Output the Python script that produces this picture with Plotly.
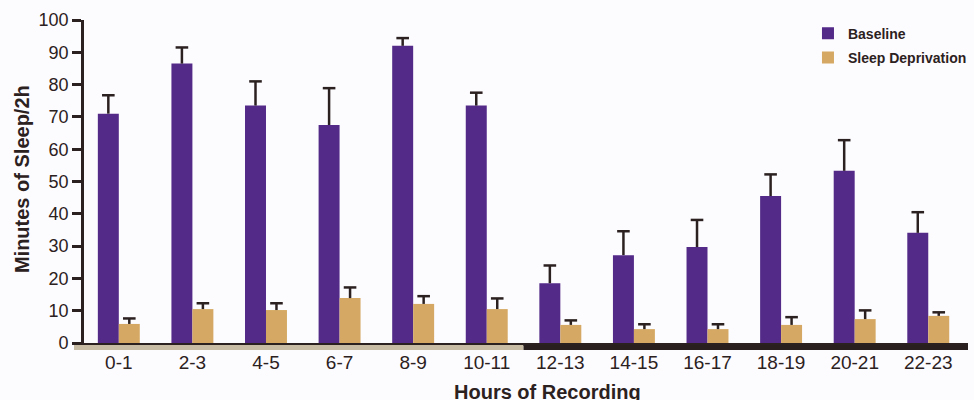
import plotly.graph_objects as go

# Sleep per 2-hour recording window (minutes), mean with upper SEM
hours = ["0-1", "2-3", "4-5", "6-7", "8-9", "10-11",
         "12-13", "14-15", "16-17", "18-19", "20-21", "22-23"]
baseline = [71, 86.5, 73.5, 67.5, 92, 73.5, 18.5, 27.2, 29.7, 45.5, 53.3, 34.1]
baseline_err = [5.7, 5.0, 7.5, 11.4, 2.4, 4.0, 5.5, 7.4, 8.4, 6.7, 9.5, 6.4]
sleep_dep = [5.9, 10.5, 10.2, 13.9, 12.1, 10.5, 5.6, 4.3, 4.3, 5.6, 7.4, 8.4]
sleep_dep_err = [1.7, 1.8, 2.1, 3.3, 2.4, 3.3, 1.4, 1.5, 1.5, 2.4, 2.7, 1.1]
yticks = [0, 10, 20, 30, 40, 50, 60, 70, 80, 90, 100]

PURPLE = "#532a88"
TAN = "#d5a963"
INK = "#2c2121"
FONT = "Liberation Sans, Arial, sans-serif"
BG = "#fcfbfe"

x_lo, x_hi = -0.609, 11.54
night_start = 5.5  # lights-off boundary between 10-11 and 12-13
BARGAP = 0.43
half = (1 - BARGAP) / 4  # offset of each bar centre from its category

idx = list(range(len(hours)))

# whisker stems only (caps added separately so no cap sits on the bar top)
err_style = dict(type="data", symmetric=False, color=INK, thickness=2.5, width=0)

fig = go.Figure()
fig.add_trace(go.Bar(
    x=idx, y=baseline, name="<b>Baseline</b>",
    marker=dict(color=PURPLE, line=dict(width=0)),
    error_y=dict(array=baseline_err, arrayminus=[0] * len(hours), **err_style),
    legendgroup="a",
))
fig.add_trace(go.Bar(
    x=idx, y=sleep_dep, name="<b>Sleep Deprivation</b>",
    marker=dict(color=TAN, line=dict(width=0)),
    error_y=dict(array=sleep_dep_err, arrayminus=[0] * len(hours), **err_style),
    legendgroup="b",
))

# whisker caps
for vals, errs, sign in ((baseline, baseline_err, -1), (sleep_dep, sleep_dep_err, 1)):
    fig.add_trace(go.Scatter(
        x=[i + sign * half for i in idx],
        y=[v + e for v, e in zip(vals, errs)],
        mode="markers", showlegend=False, hoverinfo="skip",
        marker=dict(symbol="line-ew", size=9, color=INK,
                    line=dict(color=INK, width=2.5)),
    ))

# light / dark phase strip under the time axis
fig.add_shape(type="rect", xref="x", yref="paper",
              x0=x_lo, x1=night_start, y0=-0.0065, y1=-0.0215,
              fillcolor="#c8bca5", line=dict(width=0), layer="above")
fig.add_shape(type="rect", xref="x", yref="paper",
              x0=night_start, x1=x_hi, y0=-0.0065, y1=-0.0215,
              fillcolor="#2a1f1f", line=dict(width=0), layer="above")

fig.add_annotation(text="<b>Minutes of Sleep/2h</b>", xref="paper", yref="paper",
                   x=-0.058, y=0.508, xanchor="center", yanchor="middle",
                   textangle=-90, showarrow=False,
                   font=dict(family=FONT, size=20, color=INK))
fig.add_annotation(text="<b>Hours of Recording</b>", xref="paper", yref="paper",
                   x=0.53, y=-0.111, xanchor="center", yanchor="top", showarrow=False,
                   font=dict(family=FONT, size=20, color=INK))

fig.update_layout(
    width=974, height=400,
    margin=dict(l=74, r=6, t=20, b=57, autoexpand=False),
    paper_bgcolor=BG, plot_bgcolor=BG,
    barmode="group", bargap=BARGAP, bargroupgap=0,
    font=dict(family=FONT, color=INK),
    legend=dict(
        x=0.821, y=1.007, xanchor="left", yanchor="top",
        bgcolor="rgba(0,0,0,0)", traceorder="grouped", tracegroupgap=3,
        font=dict(family=FONT, size=14, color=INK), itemwidth=30,
    ),
    xaxis=dict(
        range=[x_lo, x_hi], tickmode="array",
        tickvals=idx, ticktext=hours,
        showline=True, linecolor=INK, linewidth=2.5,
        ticks="", showgrid=False, zeroline=False,
        tickfont=dict(family=FONT, size=19, color=INK),
        ticklabelstandoff=0,
    ),
    yaxis=dict(
        range=[0, 100], tickvals=yticks, anchor="free", position=0.0089,
        showline=True, linecolor=INK, linewidth=2.5,
        ticks="outside", ticklen=9, tickwidth=2.5, tickcolor=INK,
        showgrid=False, zeroline=False,
        tickfont=dict(family=FONT, size=18, color=INK),
    ),
)

fig.write_html("out.html")
